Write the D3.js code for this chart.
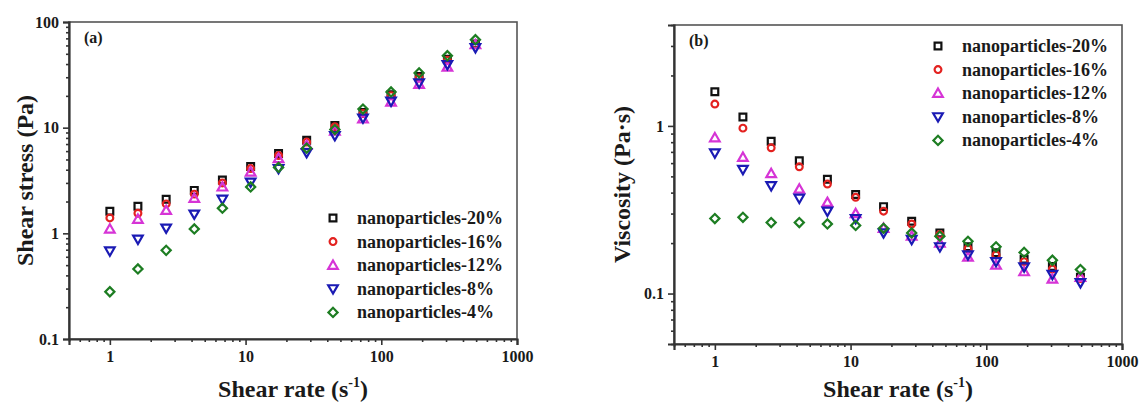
<!DOCTYPE html>
<html>
<head>
<meta charset="utf-8">
<script src="https://cdn.jsdelivr.net/npm/d3@7"></script>
<style>
  html, body { margin: 0; padding: 0; background: #fff; }
  svg { display: block; font-family: 'Liberation Serif', 'Times New Roman', serif; font-weight: bold; }
</style>
</head>
<body>
<svg id="chart" width="1141" height="403"></svg>
<script>
// ---- data ----
const shearRates = [1, 1.61, 2.6, 4.19, 6.75, 10.9, 17.5, 28.2, 45.5, 73.3, 118, 190, 307, 494];
const seriesNames = ["nanoparticles-20%", "nanoparticles-16%", "nanoparticles-12%", "nanoparticles-8%", "nanoparticles-4%"];

const stress20 = [1.62, 1.8, 2.1, 2.55, 3.2, 4.3, 5.7, 7.6, 10.5, 13.9, 20.5, 30.5, 44.5, 62];
const stress16 = [1.4, 1.55, 1.9, 2.35, 3.0, 4.1, 5.45, 7.3, 10.2, 13.6, 20.1, 29.5, 43.5, 61];
const stress12 = [1.1, 1.36, 1.65, 2.15, 2.75, 3.8, 5.1, 6.8, 9.3, 12.1, 17.5, 25.7, 37.5, 61];
const stress8  = [0.68, 0.88, 1.12, 1.52, 2.1, 3.05, 4.1, 5.8, 8.4, 12.3, 17.8, 26.5, 39.5, 57];
const stress4  = [0.28, 0.46, 0.69, 1.1, 1.73, 2.75, 4.2, 6.4, 9.6, 15, 21.8, 33, 48, 68];

const visc20 = [1.6, 1.13, 0.81, 0.62, 0.48, 0.39, 0.33, 0.27, 0.23, 0.19, 0.175, 0.16, 0.145, 0.125];
const visc16 = [1.35, 0.97, 0.74, 0.57, 0.45, 0.375, 0.31, 0.26, 0.225, 0.185, 0.17, 0.155, 0.14, 0.123];
const visc12 = [0.85, 0.65, 0.52, 0.42, 0.35, 0.3, 0.245, 0.22, 0.2, 0.165, 0.148, 0.135, 0.122, 0.125];
const visc8  = [0.69, 0.55, 0.44, 0.37, 0.31, 0.28, 0.23, 0.21, 0.19, 0.17, 0.155, 0.144, 0.13, 0.116];
const visc4  = [0.28, 0.285, 0.265, 0.265, 0.26, 0.255, 0.245, 0.23, 0.22, 0.205, 0.19, 0.176, 0.158, 0.139];

const xTickValues = [1, 10, 100, 1000];
const xTickLabels = ["1", "10", "100", "1000"];
const yTickValuesA = [0.1, 1, 10, 100];
const yTickLabelsA = ["0.1", "1", "10", "100"];
const yTickValuesB = [0.1, 1];
const yTickLabelsB = ["0.1", "1"];

// ---- styles ----
const colors = ["#111111", "#e3211f", "#d634d6", "#1a1ab4", "#1d7d22"];
const shapes = ["square", "circle", "up", "down", "diamond"];

const svg = d3.select("#chart");

function symbolPath(shape) {
  if (shape === "square") return d3.symbol(d3.symbolSquare, 46)();
  if (shape === "circle") return d3.symbol(d3.symbolCircle, 36)();
  if (shape === "up" || shape === "down") return d3.symbol(d3.symbolTriangle, 40)();
  return d3.symbol(d3.symbolSquare, 42)();
}
function symbolRot(shape) {
  if (shape === "down") return 180;
  if (shape === "diamond") return 45;
  return 0;
}
function triOffset(shape) {
  if (shape === "up") return 0.8;
  if (shape === "down") return -0.8;
  return 0;
}

function minorTicks(lo, hi) {
  const out = [];
  for (let e = Math.floor(Math.log10(lo)) ; e <= Math.ceil(Math.log10(hi)); e++) {
    for (let m = 2; m <= 9; m++) {
      const v = m * Math.pow(10, e);
      if (v >= lo * 0.999 && v <= hi * 1.001) out.push(v);
    }
  }
  return out;
}

function drawPanel(opt) {
  const g = svg.append("g");
  const x = d3.scaleLog().domain([0.5, 1000]).range([opt.left, opt.right]);
  const y = d3.scaleLog().domain(opt.yDomain).range([opt.bottom, opt.top]);

  g.append("rect")
    .attr("x", opt.left).attr("y", opt.top)
    .attr("width", opt.right - opt.left).attr("height", opt.bottom - opt.top)
    .attr("fill", "none").attr("stroke", "#555").attr("stroke-width", 1.6);

  const xAxis = d3.axisBottom(x).tickValues(xTickValues)
    .tickFormat((d, i) => xTickLabels[i]).tickSize(6).tickPadding(6);
  g.append("g").attr("transform", `translate(0,${opt.bottom})`).call(xAxis);
  g.append("g").attr("transform", `translate(0,${opt.bottom})`)
    .call(d3.axisBottom(x).tickValues(minorTicks(0.5, 1000)).tickFormat("").tickSize(3))
    .select(".domain").remove();

  const yAxis = d3.axisLeft(y).tickValues(opt.yTicks)
    .tickFormat((d, i) => opt.yLabels[i]).tickSize(6).tickPadding(4);
  g.append("g").attr("transform", `translate(${opt.left},0)`).call(yAxis);
  g.append("g").attr("transform", `translate(${opt.left},0)`)
    .call(d3.axisLeft(y).tickValues(minorTicks(opt.yDomain[0], opt.yDomain[1])).tickFormat("").tickSize(3))
    .select(".domain").remove();

  g.selectAll(".domain").attr("stroke", "#333").attr("stroke-width", 2.2);
  g.selectAll(".tick line").attr("stroke", "#333").attr("stroke-width", 1.6);
  g.selectAll(".tick text").attr("fill", "#1a1a1a")
    .style("font-family", "'Liberation Serif', 'Times New Roman', serif")
    .style("font-weight", "bold").style("font-size", "16px");

  g.append("text").attr("x", opt.left + 15).attr("y", opt.top + 21)
    .attr("font-size", 16).attr("fill", "#1a1a1a").text(opt.letter);

  opt.series.forEach((vals, si) => {
    g.append("g").selectAll("path").data(vals).join("path")
      .attr("d", symbolPath(shapes[si]))
      .attr("transform", (d, i) => `translate(${x(shearRates[i])},${y(d) + triOffset(shapes[si])}) rotate(${symbolRot(shapes[si])})`)
      .attr("fill", "none").attr("stroke", colors[si]).attr("stroke-width", 2.2);
  });

  const lg = g.append("g");
  seriesNames.forEach((name, si) => {
    const cy = opt.legendY + si * 23.6;
    lg.append("path").attr("d", symbolPath(shapes[si]))
      .attr("transform", `translate(${opt.legendX},${cy + triOffset(shapes[si])}) rotate(${symbolRot(shapes[si])})`)
      .attr("fill", "none").attr("stroke", colors[si]).attr("stroke-width", 2.2);
    lg.append("text").attr("x", opt.legendX + 24).attr("y", cy).attr("dy", "0.33em")
      .attr("font-size", 18).attr("fill", "#1a1a1a").text(name);
  });

  const xt = g.append("text").attr("x", (opt.left + opt.right) / 2).attr("y", 397)
    .attr("text-anchor", "middle").attr("font-size", 24).attr("fill", "#1a1a1a");
  xt.append("tspan").text("Shear rate (s");
  xt.append("tspan").attr("dy", -10).attr("font-size", 14).text("-1");
  xt.append("tspan").attr("dy", 10).text(")");

  g.append("text")
    .attr("transform", `translate(${opt.yTitleX},${(opt.top + opt.bottom) / 2}) rotate(-90)`)
    .attr("text-anchor", "middle").attr("dy", "0.35em")
    .attr("font-size", 24).attr("fill", "#1a1a1a").text(opt.yTitle);
}

drawPanel({
  left: 69, right: 517, top: 22, bottom: 339,
  yDomain: [0.1, 100], yTicks: yTickValuesA, yLabels: yTickLabelsA,
  series: [stress20, stress16, stress12, stress8, stress4],
  legendX: 333, legendY: 218, letter: "(a)",
  yTitle: "Shear stress (Pa)", yTitleX: 25
});

drawPanel({
  left: 674, right: 1122, top: 25, bottom: 344,
  yDomain: [0.05, 4], yTicks: yTickValuesB, yLabels: yTickLabelsB,
  series: [visc20, visc16, visc12, visc8, visc4],
  legendX: 938, legendY: 46, letter: "(b)",
  yTitle: "Viscosity (Pa\u00b7s)", yTitleX: 622
});
</script>
</body>
</html>
